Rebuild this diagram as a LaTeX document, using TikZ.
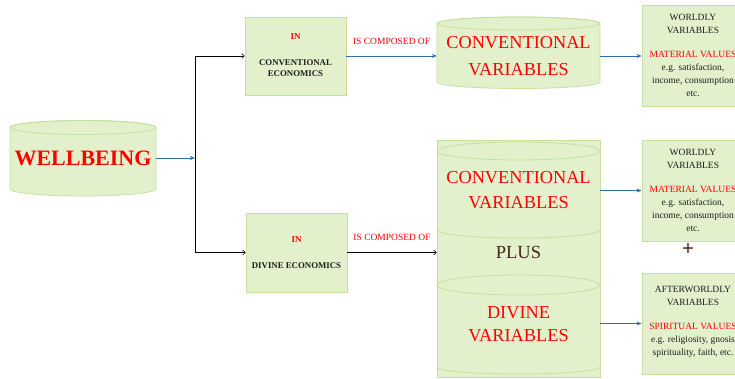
\documentclass[tikz,border=0pt]{standalone}
\usepackage{fontspec}
\setmainfont{Liberation Serif}
\usetikzlibrary{arrows.meta}
\definecolor{boxfill}{RGB}{226,240,203}
\definecolor{boxline}{RGB}{197,224,160}
\definecolor{arrblue}{RGB}{46,110,170}
\definecolor{txtred}{RGB}{255,0,0}
\definecolor{plusbrown}{RGB}{70,40,30}
\definecolor{txtdark}{RGB}{30,30,30}
\newcommand\mycyl[5]{%
  \pgfmathsetmacro\cylrx{(#2-#1)/2}%
  \path[draw=boxline,fill=boxfill,line width=0.8pt] (#1,#3) -- (#1,#4)
    arc[start angle=180,end angle=0,x radius=\cylrx,y radius=#5] -- (#2,#3)
    arc[start angle=0,end angle=-180,x radius=\cylrx,y radius=#5] -- cycle;
  \draw[boxline,line width=0.8pt] ({(#1+#2)/2},#3) ellipse[x radius=\cylrx,y radius=#5];
}
\tikzset{
  box/.style={draw=boxline,fill=boxfill,line width=0.8pt,inner sep=0pt},
  txt/.style={inner sep=0pt,align=center},
  bluearr/.style={draw=arrblue,line width=0.7pt,-{Stealth[length=5pt,width=4pt]}},
  blackarr/.style={draw=black,line width=0.6pt,-{To[length=3pt,width=5pt]}},
  lbl/.style={inner sep=0pt,text=txtred,font=\fontsize{9.5}{11}\selectfont},
  rtxt/.style={inner sep=0pt,align=center,text=txtdark,font=\fontsize{9.5}{13}\selectfont},
}
\begin{document}
\begin{tikzpicture}[x=1pt,y=-1pt]
\useasboundingbox (0,0) rectangle (735,378);
\clip (0,0) rectangle (735,378);
% WELLBEING cylinder
\mycyl{10}{156}{127.5}{189}{7}
\node[txt,minimum width=146pt,text=txtred,font=\fontsize{22}{24}\selectfont\bfseries] (wb) at (83,158) {WELLBEING};
\coordinate (split) at (195,158);
% economics boxes
\node[box,minimum width=101pt,minimum height=78pt] (ce) at (295.5,56) {};
\node[txt,text=txtred,font=\fontsize{9}{11}\selectfont\bfseries] (ceIn) at (ce.center |- 0,37) {IN};
\node[txt,text=txtdark,font=\fontsize{8.8}{10.5}\selectfont\bfseries] (ceT) at (ce.center |- 0,68) {CONVENTIONAL\\ECONOMICS};
\node[box,minimum width=101pt,minimum height=79pt] (de) at (296.5,252.5) {};
\node[txt,text=txtred,font=\fontsize{9}{11}\selectfont\bfseries] (deIn) at (de.center |- 0,240) {IN};
\node[txt,text=txtdark,font=\fontsize{8.8}{10.5}\selectfont\bfseries] (deT) at (de.center |- 0,266) {DIVINE ECONOMICS};
% conventional variables cylinder
\mycyl{437}{600}{23.5}{82}{6.5}
\node[txt,minimum width=163pt,text=txtred,font=\fontsize{18.3}{27}\selectfont] (cv) at (518.5,56) {CONVENTIONAL\\VARIABLES};
% big composite
\node[box,minimum width=163pt,minimum height=237pt] (big) at (518.5,258.5) {};
\draw[boxline,line width=0.8pt] (518.5,151) ellipse[x radius=81.5,y radius=9];
\draw[boxline,line width=0.8pt] (437,230) arc[start angle=180,end angle=0,x radius=81.5,y radius=8];
\draw[boxline,line width=0.8pt] (518.5,285) ellipse[x radius=81.5,y radius=10];
\draw[boxline,line width=0.8pt] (437,367) arc[start angle=180,end angle=0,x radius=81.5,y radius=7];
\node[txt,text=txtred,font=\fontsize{18.3}{25}\selectfont] (cv2) at (518.5,190) {CONVENTIONAL\\VARIABLES};
\node[txt,text=plusbrown,font=\fontsize{18.5}{20}\selectfont] (plus) at (518.5,252) {PLUS};
\node[txt,text=txtred,font=\fontsize{18.3}{23}\selectfont] (dv) at (518.5,324) {DIVINE\\VARIABLES};
% right boxes
\node[box,minimum width=102pt,minimum height=101pt] (rb1) at (693,55.5) {};
\node[rtxt] (rb1t) at (rb1.center) {WORLDLY\\VARIABLES\\[11pt]\textcolor{txtred}{MATERIAL VALUES}\\e.g. satisfaction,\\income, consumption\\etc.};
\node[box,minimum width=102pt,minimum height=101pt] (rb2) at (693,190.5) {};
\node[rtxt] (rb2t) at (rb2.center) {WORLDLY\\VARIABLES\\[11pt]\textcolor{txtred}{MATERIAL VALUES}\\e.g. satisfaction,\\income, consumption\\etc.};
\node[txt,text=plusbrown,font=\fontsize{21}{22}\selectfont\bfseries] (pl) at (688,250) {+};
\node[box,minimum width=102pt,minimum height=101pt] (rb3) at (693,323.5) {};
\node[rtxt] (rb3t) at ([yshift=1.5pt]rb3.center) {AFTERWORLDLY\\VARIABLES\\[11pt]\textcolor{txtred}{SPIRITUAL VALUES}\\e.g. religiosity, gnosis\\spirituality, faith, etc.};
% connectors
\draw[bluearr] (wb.east) -- (split);
\draw[blackarr] (split) |- (ce.west);
\draw[blackarr] (split) |- (de.west);
\draw[bluearr] (ce.east) -- node[lbl,above=11pt] (l1) {IS COMPOSED OF} (cv.west);
\draw[blackarr] (de.east) -- node[lbl,above=12pt] (l2) {IS COMPOSED OF} (big.west |- de.east);
\draw[bluearr] (cv.east) -- (rb1.west |- cv.east);
\draw[bluearr] (big.east |- rb2.west) -- (rb2.west);
\draw[bluearr] (big.east |- rb3.west) -- (rb3.west);
\end{tikzpicture}
\end{document}
